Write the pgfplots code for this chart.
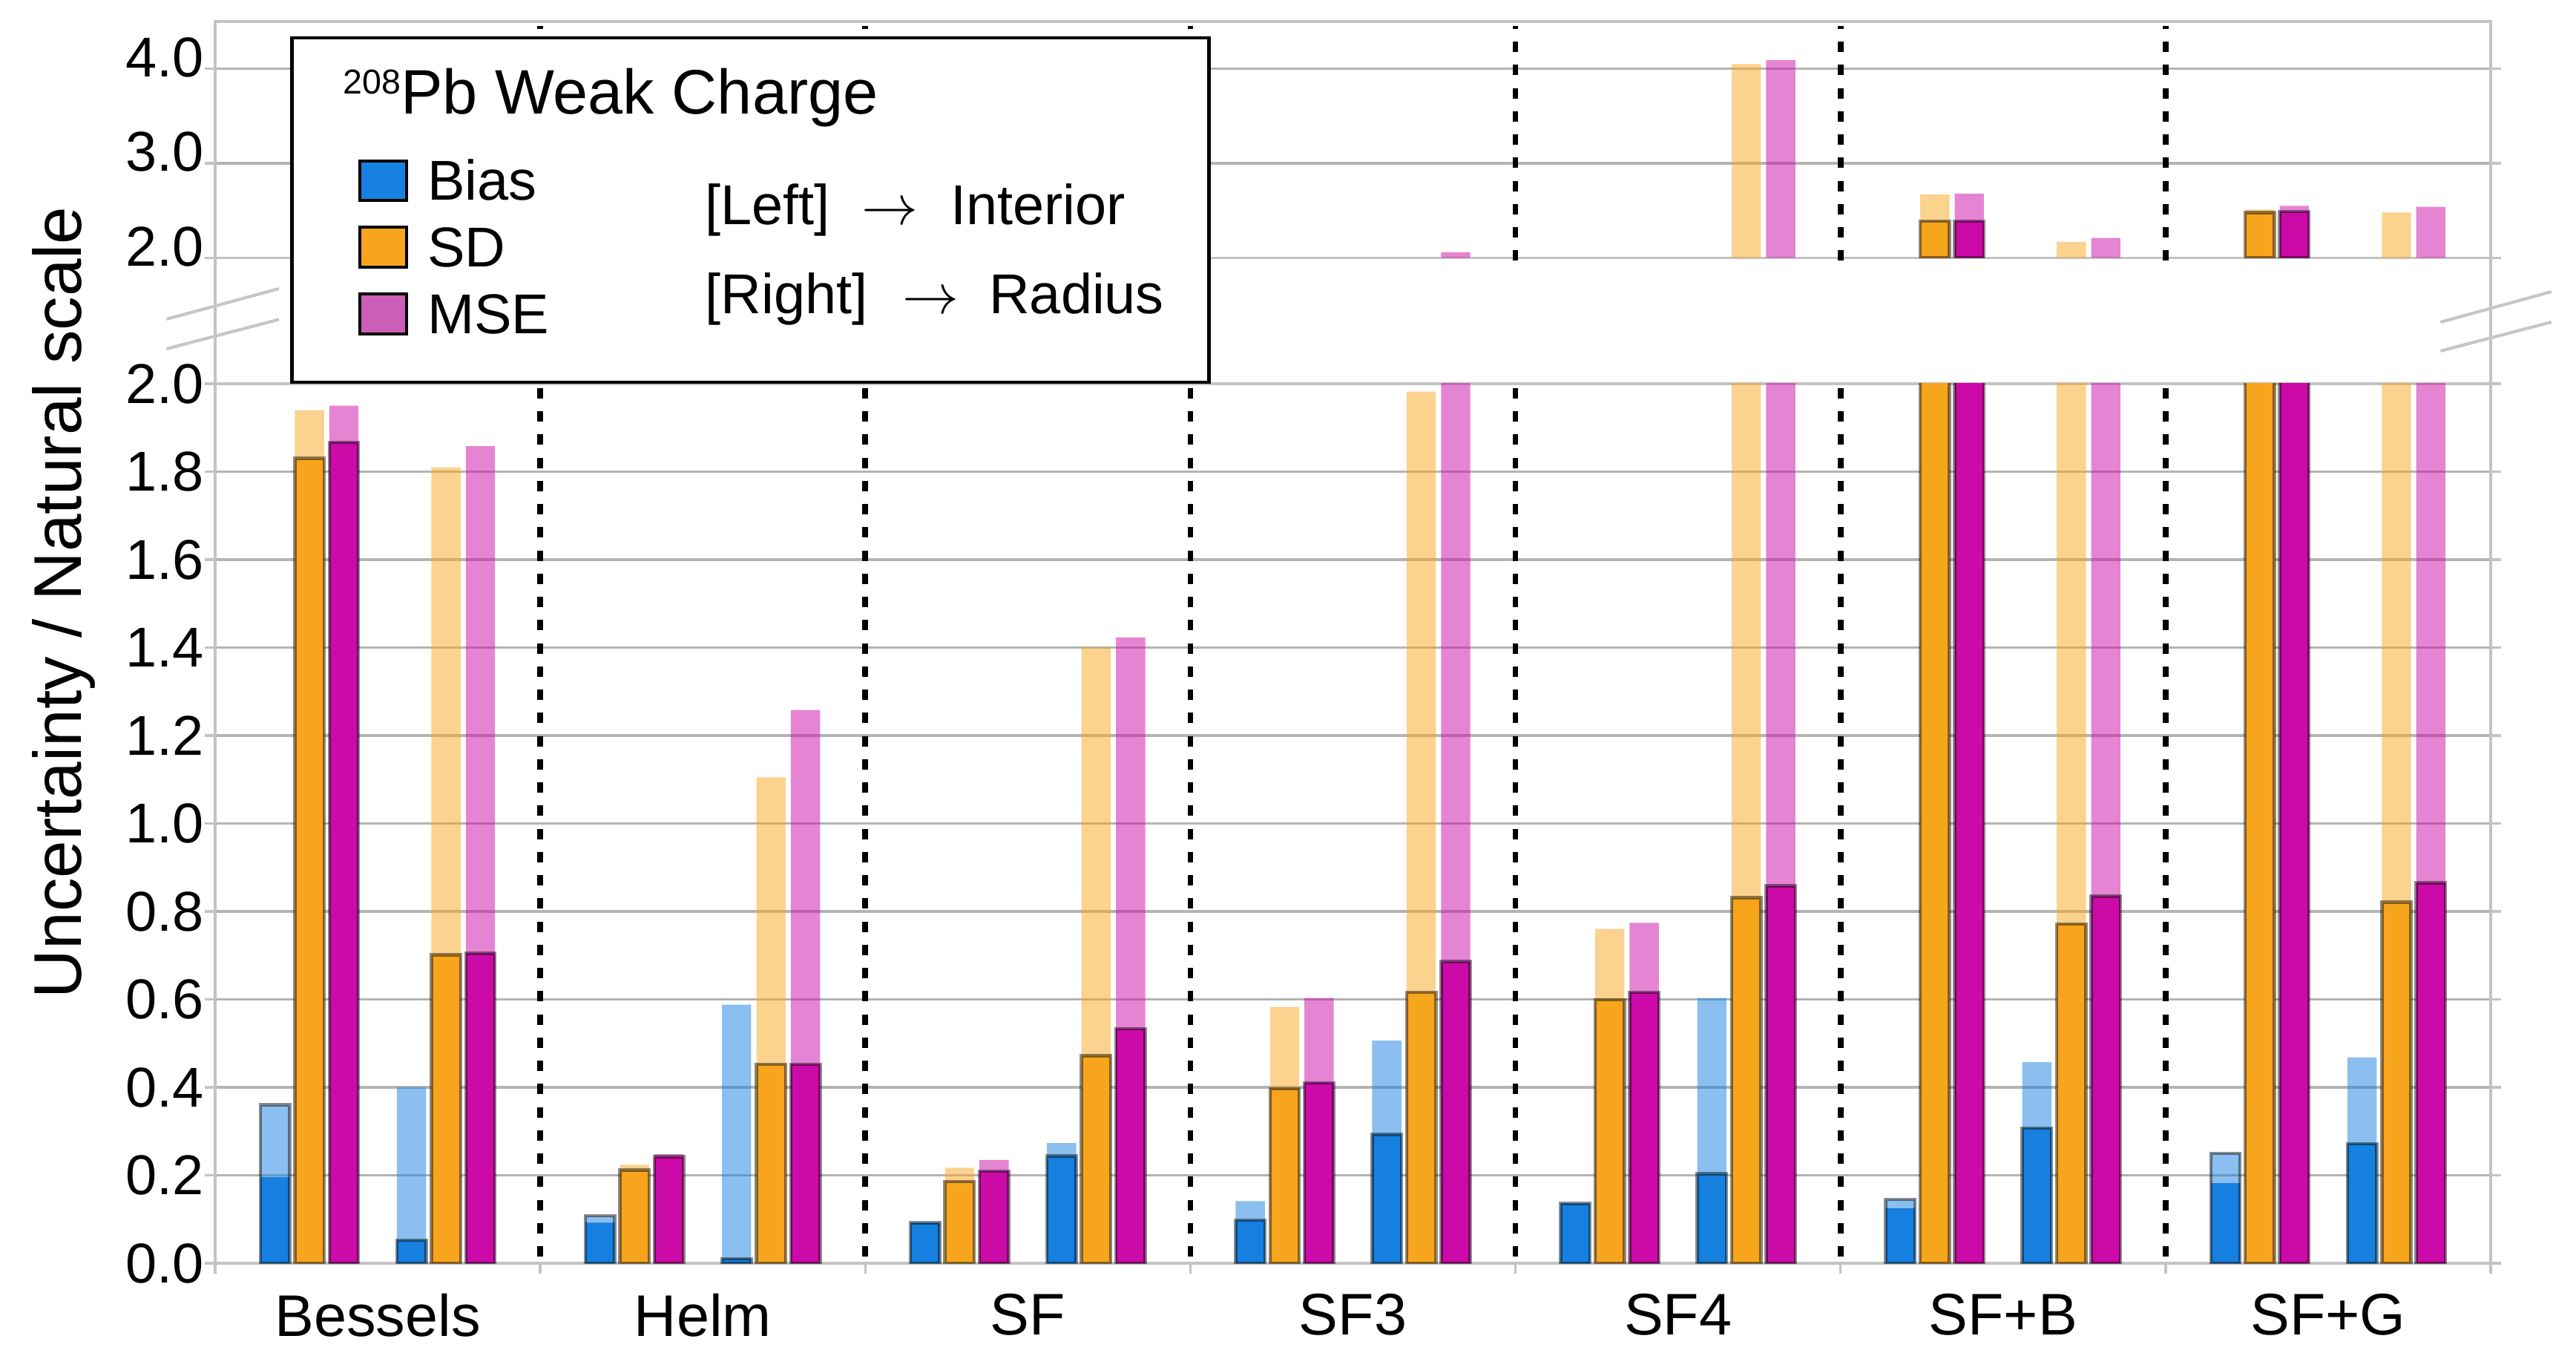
\documentclass[border=0pt]{standalone}
\usepackage{fontspec}
\setmainfont{Liberation Sans}
\usepackage{pgfplots}
\usepackage{pgfplotstable}
\pgfplotsset{compat=1.18}
\definecolor{cBias}{RGB}{21,128,224}
\definecolor{cSD}{RGB}{247,165,29}
\definecolor{cMSE}{RGB}{204,10,168}
\definecolor{cBiasleg}{RGB}{24,128,224}
\definecolor{cMSEleg}{RGB}{204,94,184}
\definecolor{gridgray}{RGB}{180,180,180}
\definecolor{axisgray}{RGB}{195,195,195}

% A = bar with grey outline, B = bar without outline
\pgfplotstableread{
x     biasA biasB sdA   sdB   mseA  mseB
-0.21 0.360 0.196 1.830 1.940 1.867 1.950
0.21  0.052 0.400 0.701 1.810 0.705 1.858
0.79  0.108 0.092 0.212 0.224 0.242 0.248
1.21  0.010 0.588 0.452 1.105 0.452 1.258
1.79  0.092 0.092 0.186 0.217 0.209 0.235
2.21  0.244 0.273 0.472 1.400 0.533 1.423
2.79  0.098 0.141 0.397 0.583 0.410 0.603
3.21  0.293 0.506 0.616 1.982 0.686 2.060
3.79  0.136 0.136 0.599 0.760 0.616 0.774
4.21  0.203 0.603 0.831 4.050 0.858 4.090
4.79  0.145 0.125 2.390 2.670 2.390 2.680
5.21  0.307 0.457 0.771 2.170 0.835 2.210
5.79  0.250 0.182 2.480 2.510 2.490 2.550
6.21  0.272 0.468 0.821 2.480 0.865 2.540
}\data

\newcommand{\series}[3]{%
  \addplot[ybar, bar width=0.09, bar shift=#2, fill=#3, fill opacity=0.5, draw=none]
    table[x=x, y expr={max(\thisrow{#1A},\thisrow{#1B})}] {\data};
  \addplot[ybar, bar width=0.09, bar shift=#2, fill=#3, draw=none]
    table[x=x, y expr={min(\thisrow{#1A},\thisrow{#1B})}] {\data};
  \addplot[ybar, bar width=0.09, bar shift=#2, fill=none, draw=black, draw opacity=0.45, line width=0.65pt]
    table[x=x, y=#1A] {\data};
}

\pgfplotsset{panel/.style={
  scale only axis, width=441.68pt, anchor=south west,
  xmin=-0.5, xmax=6.5, clip mode=individual,
  axis line style={draw=axisgray, line width=0.5pt},
  ymajorgrids, grid style={draw=gridgray, line width=0.5pt},
  tick align=outside, major tick length=2pt,
  ytick style={draw=axisgray, line width=0.5pt},
  xtick style={draw=none},
  yticklabel style={font=\fontsize{10.9}{12}\selectfont, inner xsep=0pt},
}}

\begin{document}
\begin{tikzpicture}
% lower panel
\begin{axis}[panel, at={(41.76pt,18pt)}, height=170.65pt,
  ymin=0, ymax=2,
  ytick={0,0.2,0.4,0.6,0.8,1,1.2,1.4,1.6,1.8,2},
  yticklabels={0.0,0.2,0.4,0.6,0.8,1.0,1.2,1.4,1.6,1.8,2.0},
  xtick={0,1,2,3,4,5,6},
  xticklabels={Bessels,Helm,SF,SF3,SF4,SF+B,SF+G},
  xticklabel style={font=\fontsize{11.4}{13}\selectfont, yshift=-0.4pt},
]
\series{bias}{-0.106}{cBias}
\series{sd}{0}{cSD}
\series{mse}{0.106}{cMSE}
\pgfplotsinvokeforeach{0.5,1.5,2.5,3.5,4.5,5.5}{
  \draw[black, line width=1.1pt, dash pattern=on 2pt off 2.5pt] (axis cs:#1,1.99) -- (axis cs:#1,0);
}
\pgfplotsinvokeforeach{-0.5,0.5,1.5,2.5,3.5,4.5,5.5,6.5}{
  \draw[axisgray, line width=0.5pt] (axis cs:#1,0) -- ++(0pt,-2pt);
}
\end{axis}
% upper panel
\begin{axis}[panel, at={(41.76pt,213.06pt)}, height=45.87pt,
  ymin=2, ymax=4.5,
  ytick={2,3,4}, yticklabels={2.0,3.0,4.0},
  yticklabel style={yshift=2.2pt},
  xtick=\empty,
  every axis plot/.append style={y filter/.expression={y<2 ? nan : y}},
]
\series{bias}{-0.106}{cBias}
\series{sd}{0}{cSD}
\series{mse}{0.106}{cMSE}
\pgfplotsinvokeforeach{0.5,1.5,2.5,3.5,4.5,5.5}{
  \draw[black, line width=1.1pt, dash pattern=on 2pt off 2.5pt] (axis cs:#1,1.97) -- (axis cs:#1,4.45);
}
\end{axis}
% connecting axis lines and break marks
\draw[axisgray, line width=0.5pt] (41.76pt,188.65pt) -- (41.76pt,213.06pt);
\draw[axisgray, line width=0.5pt] (483.44pt,188.65pt) -- (483.44pt,213.06pt);
\draw[gray!45, line width=0.6pt] (32.33pt,201.18pt) -- (54.15pt,207.09pt);
\draw[gray!45, line width=0.6pt] (32.33pt,195.42pt) -- (54.15pt,201.12pt);
\draw[gray!45, line width=0.6pt] (473.7pt,200.6pt) -- (495.2pt,206.5pt);
\draw[gray!45, line width=0.6pt] (473.7pt,195.0pt) -- (495.2pt,200.6pt);
% y label
\node[rotate=90, anchor=base, inner sep=0pt, font=\fontsize{13.1}{15}\selectfont] at (15.8pt,146.2pt) {Uncertainty / Natural scale};
% legend
\draw[black, line width=0.7pt, fill=white] (56.68pt,188.94pt) rectangle (234.68pt,255.76pt);
\node[anchor=base west, inner sep=0pt, font=\fontsize{12.2}{14}\selectfont] at (66.4pt,241.0pt) {\raisebox{3.9pt}{\fontsize{6.7}{8}\selectfont 208}Pb Weak Charge};
\draw[black, line width=0.6pt, fill=cBiasleg] (69.8pt,224.2pt) rectangle (78.9pt,231.85pt);
\draw[black, line width=0.6pt, fill=cSD] (69.8pt,211.3pt) rectangle (78.9pt,219.0pt);
\draw[black, line width=0.6pt, fill=cMSEleg] (69.8pt,198.3pt) rectangle (78.9pt,206.1pt);
\begin{scope}[every node/.style={anchor=base west, inner sep=0pt, font=\fontsize{10.9}{12}\selectfont}]
\node at (82.8pt,224.3pt) {Bias};
\node at (82.8pt,211.3pt) {SD};
\node at (82.8pt,198.4pt) {MSE};
\node at (136.7pt,219.5pt) {[Left]};
\node at (167.1pt,219.5pt) {$\rightarrow$};
\node at (184.3pt,219.5pt) {Interior};
\node at (136.7pt,202.2pt) {[Right]};
\node at (175.0pt,202.2pt) {$\rightarrow$};
\node at (191.8pt,202.2pt) {Radius};
\end{scope}
\pgfresetboundingbox
\path[use as bounding box] (0,0) rectangle (500pt,263.1pt);
\end{tikzpicture}
\end{document}
